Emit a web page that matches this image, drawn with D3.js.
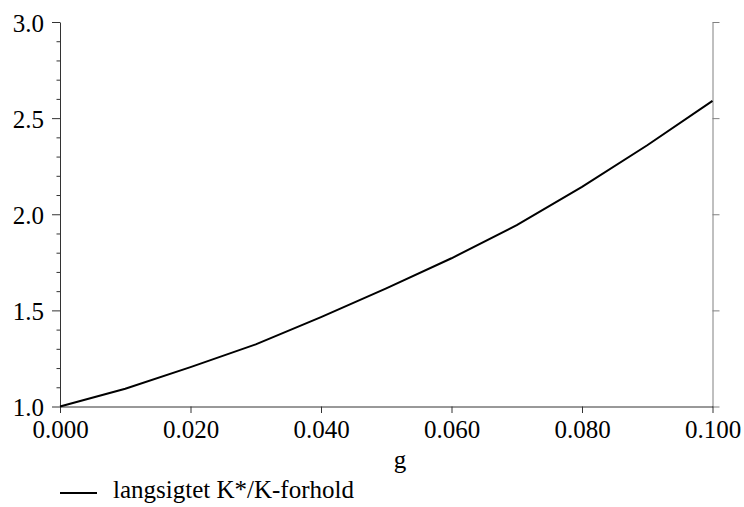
<!DOCTYPE html>
<html><head><meta charset="utf-8">
<script src="https://cdn.jsdelivr.net/npm/d3@7"></script>
<style>body{margin:0;background:#fff}svg{display:block}
svg text{font-family:"Liberation Serif","Times New Roman",Times,serif !important;font-size:25px !important;fill:#000}</style>
</head><body>
<svg id="c" width="744" height="507"></svg>
<script>
const gValues = [0.00,0.01,0.02,0.03,0.04,0.05,0.06,0.07,0.08,0.09,0.10];
const ratio   = [1.000,1.092,1.205,1.323,1.465,1.614,1.771,1.943,2.142,2.359,2.590];
const xTicks = [0,0.02,0.04,0.06,0.08,0.1];
const yTicks = [1.0,1.5,2.0,2.5,3.0];
const yMinor = [1.1,1.2,1.3,1.4,1.6,1.7,1.8,1.9,2.1,2.2,2.3,2.4,2.6,2.7,2.8,2.9];
const legendLabel = "langsigtet K*/K-forhold";
const xTitle = "g";

const svg = d3.select("#c");
const x = d3.scaleLinear().domain([0,0.1]).range([60,712.5]);
const y = d3.scaleLinear().domain([1,3]).range([406.5,22]);

// left axis
const la = svg.append("g").attr("transform","translate(60,0)")
  .call(d3.axisLeft(y).tickValues(yTicks).tickSize(8).tickSizeOuter(0).tickPadding(8).tickFormat(d3.format(".1f")));
la.selectAll("text").attr("dy","0.37em");
la.selectAll("line,path").attr("stroke","#333");
const lm = svg.append("g").attr("transform","translate(60,0)")
  .call(d3.axisLeft(y).tickValues(yMinor).tickSize(3.5).tickSizeOuter(0).tickFormat(""));
lm.select("path").remove();
lm.selectAll("line").attr("stroke","#333");

// right axis
const ra = svg.append("g").attr("transform","translate(712.5,0)")
  .call(d3.axisRight(y).tickValues(yTicks).tickSize(7).tickSizeOuter(0).tickFormat(""));
ra.selectAll("line,path").attr("stroke","#808080");

// bottom axis
const ba = svg.append("g").attr("transform","translate(0,406.5)")
  .call(d3.axisBottom(x).tickValues(xTicks).tickSize(6.5).tickSizeOuter(0).tickPadding(7.5).tickFormat(d3.format(".3f")));
ba.selectAll("line,path").attr("stroke","#333");

// curve
svg.append("path").datum(gValues.map((g,i)=>[g,ratio[i]]))
  .attr("fill","none").attr("stroke","#000").attr("stroke-width",2)
  .attr("d",d3.line().x(d=>x(d[0])).y(d=>y(d[1])));

// x title
svg.append("text").attr("x",400).attr("y",468).attr("text-anchor","middle").text(xTitle);

// legend
svg.append("line").attr("x1",60).attr("x2",97).attr("y1",493).attr("y2",493)
  .attr("stroke","#000").attr("stroke-width",2);
svg.append("text").attr("x",113).attr("y",498).text(legendLabel);
</script>
</body></html>
